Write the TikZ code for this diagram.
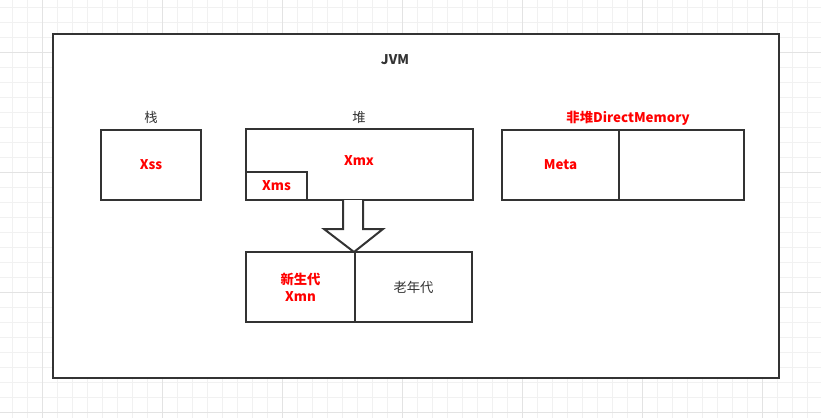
\documentclass[tikz,border=0pt]{standalone}
\usepackage{fontspec}
\setmainfont{Noto Sans CJK SC}
\usepackage{tikz}
\usetikzlibrary{positioning,calc}
\definecolor{boxline}{HTML}{333333}
\definecolor{memred}{HTML}{FF0000}
\definecolor{gridminor}{HTML}{F1F1F1}
\definecolor{gridmajor}{HTML}{E3E3E3}
\tikzstyle{area} = [rectangle, draw=boxline, line width=1.5pt, fill=white, inner sep=0pt, outer sep=0pt, text centered]
\tikzstyle{redtxt} = [text=memred, font=\bfseries\fontsize{10}{13}\selectfont, align=center]
\tikzstyle{graytxt} = [text=boxline, font=\fontsize{10}{13}\selectfont, align=center]

\begin{document}
\begin{tikzpicture}[x=0.75pt, y=-0.75pt]
  \useasboundingbox (0,0) rectangle (821,418);
  % draw background grid
  \foreach \gx in {12,27,...,822}
    \draw[gridminor, line width=0.75pt] (\gx,0) -- (\gx,418);
  \foreach \gy in {7,22,...,418}
    \draw[gridminor, line width=0.75pt] (0,\gy) -- (821,\gy);
  \foreach \gx in {42,162,...,822}
    \draw[gridmajor, line width=0.75pt] (\gx,0) -- (\gx,418);
  \foreach \gy in {52,172,292,412}
    \draw[gridmajor, line width=0.75pt] (0,\gy) -- (821,\gy);
  % draw jvm frame
  \node[area, minimum width=544.5pt, minimum height=258pt] (jvm) at (416,206) {};
  \node[graytxt, font=\bfseries\fontsize{10}{13}\selectfont] (jvmlbl) at (395,60) {JVM};
  % draw stack
  \node[area, minimum width=75pt, minimum height=52.5pt, redtxt] (stack) at (151,165) {Xss};
  \node[graytxt] (stacklbl) at (151,117) {栈};
  % draw heap and its initial size
  \node[area, minimum width=170.25pt, minimum height=53.25pt] (heap) at (359.5,164.5) {};
  \node[graytxt] (heaplbl) at (359,117) {堆};
  \node[redtxt] (xmx) at (359,161) {Xmx};
  \node[area, minimum width=45.75pt, minimum height=21pt, anchor=south west, redtxt] (xms) at (heap.south west) {Xms};
  % draw split arrow
  \draw[boxline, line width=1.5pt, fill=white, line join=miter]
    (343,200) -- (343,229) -- (324,229) -- (354,252) -- (383,229) -- (363,229) -- (363,200);
  % draw generations
  \node[area, minimum width=81.75pt, minimum height=52.5pt, redtxt] (young) at (300.5,287) {新生代\\Xmn};
  \node[area, minimum width=87.75pt, minimum height=52.5pt, anchor=west, graytxt] (old) at (young.east) {老年代};
  % draw non-heap memory
  \node[area, minimum width=87.75pt, minimum height=52.5pt, redtxt] (meta) at (560.5,165) {Meta};
  \node[area, minimum width=93.75pt, minimum height=52.5pt, anchor=west] (direct) at (meta.east) {};
  \node[redtxt] (directlbl) at (628,118) {非堆DirectMemory};
\end{tikzpicture}
\end{document}
